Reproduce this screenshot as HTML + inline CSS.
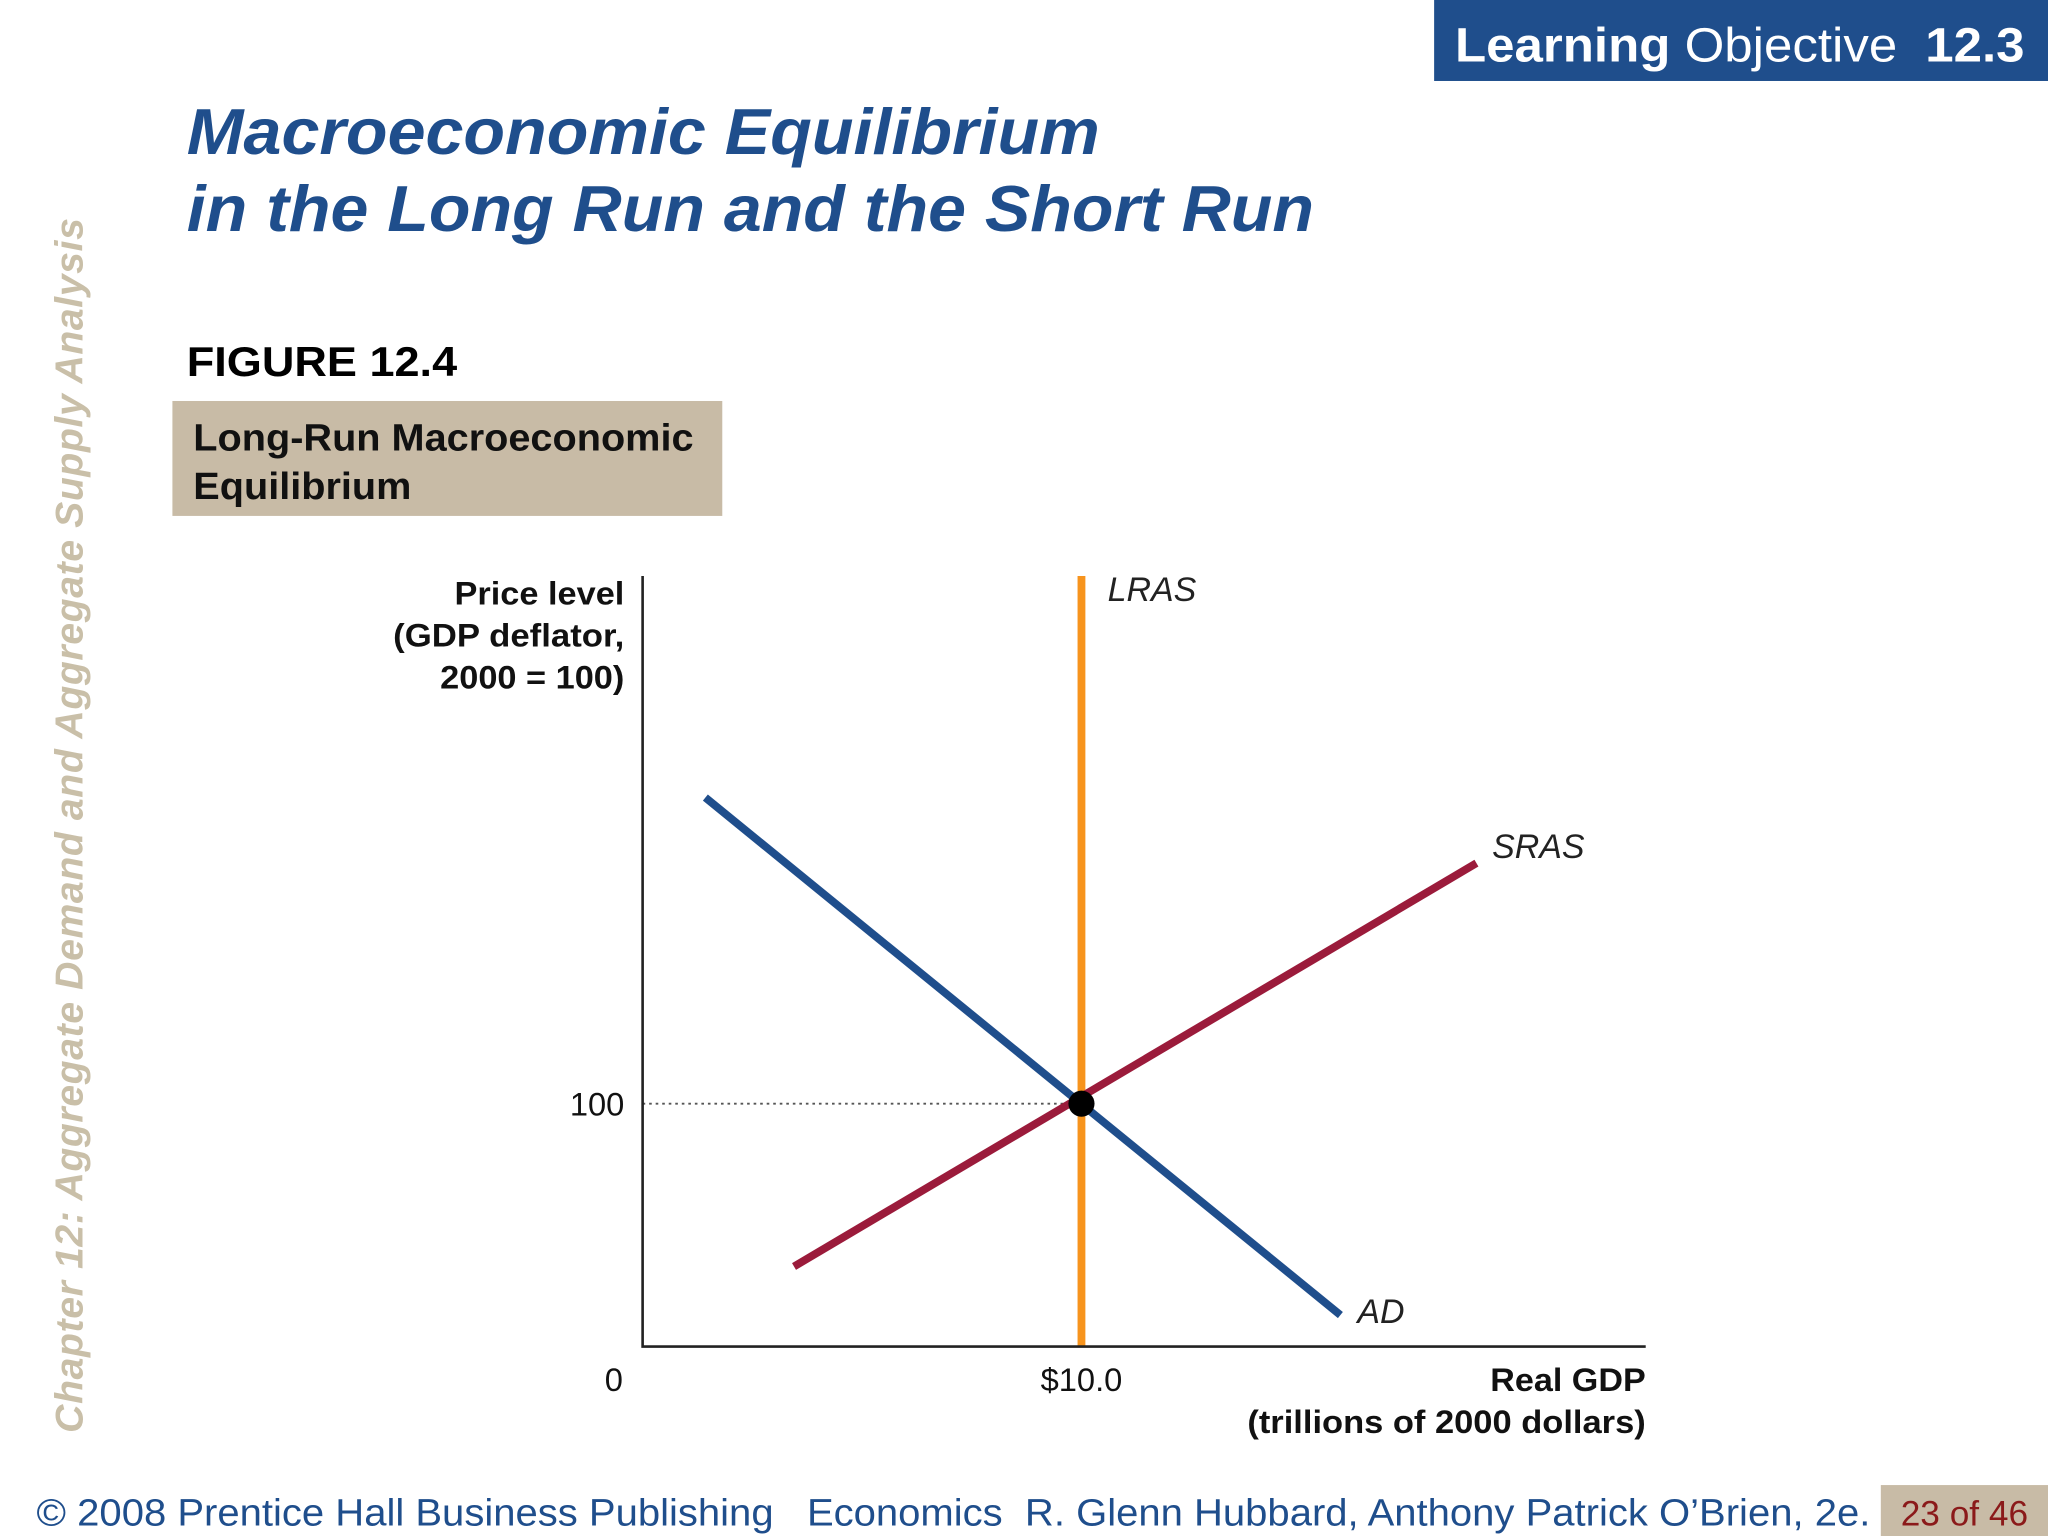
<!DOCTYPE html>
<html><head><meta charset="utf-8"><style>
html,body{margin:0;padding:0;background:#fff;width:2048px;height:1536px;overflow:hidden}
svg{display:block}
text{font-family:"Liberation Sans",Arial,sans-serif}
</style></head><body>
<svg id="s" width="2048" height="1536" viewBox="0 0 1568 1176" xmlns="http://www.w3.org/2000/svg">
<rect x="1098" y="0" width="470" height="62" fill="#1f4e8c"/>
<text x="1114" y="47" font-size="37" fill="#fff" textLength="436" lengthAdjust="spacingAndGlyphs"><tspan font-weight="bold">Learning</tspan> Objective <tspan font-weight="bold" dx="10">12.3</tspan></text>
<text x="143" y="118" font-size="50" font-weight="bold" font-style="italic" fill="#1f4e8c" textLength="699" lengthAdjust="spacingAndGlyphs">Macroeconomic Equilibrium</text>
<text x="143" y="177" font-size="50" font-weight="bold" font-style="italic" fill="#1f4e8c" textLength="863" lengthAdjust="spacingAndGlyphs">in the Long Run and the Short Run</text>
<text transform="translate(63,1097) rotate(-90)" font-size="30" font-weight="bold" font-style="italic" fill="#c9bfa8" textLength="930">Chapter 12:  Aggregate Demand and Aggregate Supply Analysis</text>
<text x="143" y="288" font-size="32" font-weight="bold" fill="#000" textLength="207" lengthAdjust="spacingAndGlyphs">FIGURE 12.4</text>
<rect x="132" y="307" width="421" height="88" fill="#c8bba6"/>
<text x="148" y="345" font-size="29" font-weight="bold" fill="#111" textLength="383" lengthAdjust="spacingAndGlyphs">Long-Run Macroeconomic</text>
<text x="148" y="382" font-size="29" font-weight="bold" fill="#111" textLength="167" lengthAdjust="spacingAndGlyphs">Equilibrium</text>
<g font-size="25" fill="#111" font-weight="bold" text-anchor="end">
<text x="478" y="463" textLength="130" lengthAdjust="spacingAndGlyphs">Price level</text>
<text x="478" y="495" textLength="177" lengthAdjust="spacingAndGlyphs">(GDP deflator,</text>
<text x="478" y="527" textLength="141" lengthAdjust="spacingAndGlyphs">2000 = 100)</text>
<text x="1260" y="1065" textLength="119" lengthAdjust="spacingAndGlyphs">Real GDP</text>
<text x="1260" y="1097" textLength="305" lengthAdjust="spacingAndGlyphs">(trillions of 2000 dollars)</text>
</g>
<g id="chart"></g>
<text x="28" y="1168" font-size="29" fill="#1f4e8c" xml:space="preserve" textLength="1404" lengthAdjust="spacingAndGlyphs">© 2008 Prentice Hall Business Publishing   Economics  R. Glenn Hubbard, Anthony Patrick O’Brien, 2e.</text>
<rect x="1440" y="1137" width="128" height="39" fill="#c8bba6"/>
<text x="1504" y="1168" font-size="27" fill="#8b1a1a" text-anchor="middle">23 of 46</text>
</svg>
<script>
const xTicks=[0,10];
const xTickLabels=["0","$10.0"];
const yTicks=[100];
const yTickLabels=["100"];
const adX=[1.43,15.9];
const adY=[226,13];
const srasX=[3.45,19.0];
const srasY=[33,199];
const lrasX=[10];
const eqX=[10];
const eqY=[100];
const X0=492,Y0=1031,XT=828,YT=845,XEND=1260,YTOP=441;
const sx=v=>X0+v*(XT-X0)/10;
const sy=v=>Y0-v*(Y0-YT)/100;
const g=document.getElementById('chart');
const NS='http://www.w3.org/2000/svg';
function mk(t,a){const e=document.createElementNS(NS,t);for(const k in a)e.setAttribute(k,a[k]);g.appendChild(e);return e;}
let e;
e=mk('line',{x1:sx(0),y1:sy(eqY[0]),x2:sx(eqX[0]),y2:sy(eqY[0]),stroke:'#555','stroke-width':1.5,'stroke-dasharray':'2,3'});


e=mk('line',{x1:sx(lrasX[0]),y1:YTOP,x2:sx(lrasX[0]),y2:Y0,stroke:'#f7941d','stroke-width':6});


e=mk('line',{x1:sx(adX[0]),y1:sy(adY[0]),x2:sx(adX[1]),y2:sy(adY[1]),stroke:'#1f4e8c','stroke-width':6});


e=mk('line',{x1:sx(srasX[0]),y1:sy(srasY[0]),x2:sx(srasX[1]),y2:sy(srasY[1]),stroke:'#9b1b3b','stroke-width':6});


e=mk('polyline',{points:`${X0},${YTOP} ${X0},${Y0} ${XEND},${Y0}`,fill:'none',stroke:'#222','stroke-width':2});


e=mk('circle',{cx:sx(eqX[0]),cy:sy(eqY[0]),r:10,fill:'#000'});


xTicks.forEach((v,i)=>{const t=mk('text',{x:i==0?sx(v)-22:sx(v),y:1065,'font-size':25,fill:'#111','text-anchor':'middle'});t.textContent=xTickLabels[i];

});
yTicks.forEach((v,i)=>{const t=mk('text',{x:478,y:sy(v)+9,'font-size':25,fill:'#111','text-anchor':'end'});t.textContent=yTickLabels[i];

});
function lab(txt,x,y,n){const t=mk('text',{x:x,y:y,'font-size':26,'font-style':'italic',fill:'#222'});t.textContent=txt;

}
lab('LRAS',sx(lrasX[0])+20,460,'lras-label');
lab('SRAS',sx(srasX[1])+12,sy(srasY[1])-4,'sras-label');
lab('AD',sx(adX[1])+13,sy(adY[1])+6,'ad-label');
</script>
</body></html>
